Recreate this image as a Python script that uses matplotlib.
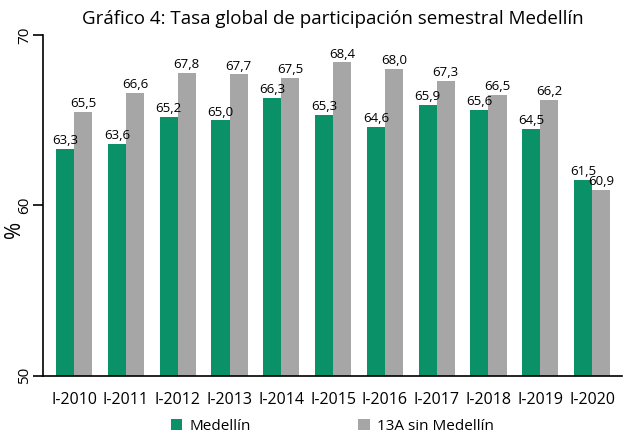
import matplotlib.pyplot as plt
import numpy as np

periodos = ['I-2010', 'I-2011', 'I-2012', 'I-2013', 'I-2014', 'I-2015',
            'I-2016', 'I-2017', 'I-2018', 'I-2019', 'I-2020']
medellin = [63.3, 63.6, 65.2, 65.0, 66.3, 65.3, 64.6, 65.9, 65.6, 64.5, 61.5]
sin_medellin = [65.5, 66.6, 67.8, 67.7, 67.5, 68.4, 68.0, 67.3, 66.5, 66.2, 60.9]

plt.rcParams['font.family'] = ['Open Sans', 'DejaVu Sans']

verde = '#0a9168'
gris = '#a6a6a6'

fig = plt.figure(figsize=(6.24, 4.38), dpi=100)
ax = fig.add_axes([0.069, 0.142, 0.928, 0.778])

x = np.arange(len(periodos))
w = 0.35
b1 = ax.bar(x - w / 2, medellin, w, color=verde, label='Medellín')
b2 = ax.bar(x + w / 2, sin_medellin, w, color=gris, label='13A sin Medellín')

for bars, vals in ((b1, medellin), (b2, sin_medellin)):
    for r, v in zip(bars, vals):
        ax.text(r.get_x() + r.get_width() / 2, v + 0.1,
                f'{v:.1f}'.replace('.', ','), ha='center', va='bottom',
                fontsize=9.5, clip_on=False)

ax.set_ylim(50, 70)
ax.set_xlim(-0.6, 10.58)
ax.set_yticks([50, 60, 70])
ax.set_yticklabels(['50', '60', '70'], rotation=90, va='center', fontsize=11)
ax.set_xticks(x)
ax.set_xticklabels(periodos, fontsize=11.5)
ax.tick_params(axis='x', length=0, pad=12)
ax.tick_params(axis='y', length=7, width=1.2, direction='out', pad=1)
# the % sits just below the 60 label, as in the original
ax.set_ylabel('%', fontsize=15, rotation=90)
ax.yaxis.set_label_coords(-0.031, 0.43)

for s in ('top', 'right'):
    ax.spines[s].set_visible(False)
ax.spines['left'].set_linewidth(1.2)
ax.spines['bottom'].set_linewidth(1.2)

ax.set_title('Gráfico 4: Tasa global de participación semestral Medellín',
             fontsize=13.5, pad=8)

ax.legend(loc='upper center', bbox_to_anchor=(0.5, -0.1), ncol=2,
          frameon=False, fontsize=11, handlelength=0.75, handleheight=0.75,
          columnspacing=7, handletextpad=0.5, borderpad=0.1)

fig.savefig('out.png', dpi=100)
